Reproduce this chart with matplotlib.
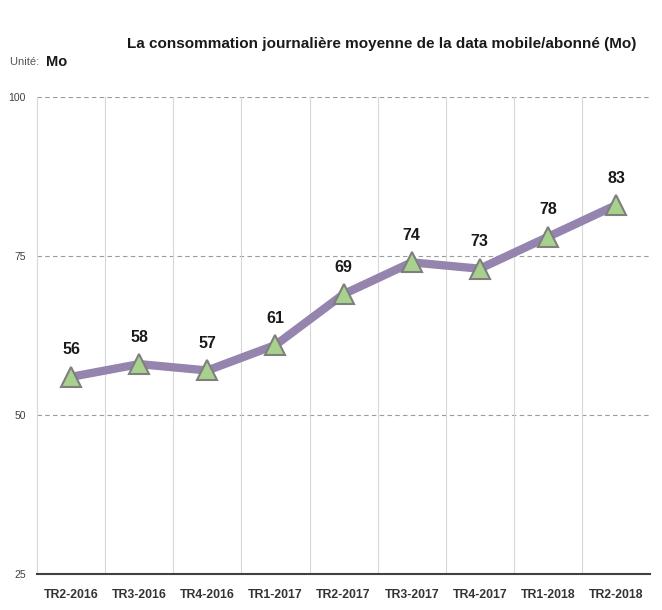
import matplotlib.pyplot as plt
import numpy as np

trimestres = ["TR2-2016", "TR3-2016", "TR4-2016", "TR1-2017", "TR2-2017",
              "TR3-2017", "TR4-2017", "TR1-2018", "TR2-2018"]
conso = [56, 58, 57, 61, 69, 74, 73, 78, 83]
yticks = [25, 50, 75, 100]

plt.rcParams['font.family'] = ['Liberation Sans', 'DejaVu Sans']

fig = plt.figure(figsize=(6.62, 6.10), dpi=100)
ax = fig.add_axes([0.056, 0.059, 0.926, 0.782])

x = np.arange(len(trimestres))
ax.plot(x, conso, color="#9484AE", linewidth=6, solid_capstyle="round", zorder=3)
ax.plot(x, conso, linestyle="none", marker="^", markersize=15,
        markerfacecolor="#A9D18E", markeredgecolor="#7F7F7F", markeredgewidth=1.5, zorder=4)

for xi, v in zip(x, conso):
    ax.annotate(str(v), (xi, v), xytext=(0, 14), textcoords="offset points",
                ha="center", va="bottom", fontsize=11.5, fontweight="bold", color="#1a1a1a")

ax.set_xlim(-0.5, len(trimestres) - 0.5)
ax.set_ylim(25, 100)
ax.set_yticks(yticks)
ax.set_yticklabels([str(t) for t in yticks], fontsize=7.5, color="#404040")
ax.set_xticks(x)
ax.set_xticklabels(trimestres, fontsize=8.8, fontweight="bold", color="#333333")
ax.tick_params(axis="x", length=0, pad=11)
ax.tick_params(axis="y", length=0, pad=8)

for t in yticks[1:]:
    ax.axhline(t, color="#9a9a9a", linestyle=(0, (4, 3)), linewidth=0.8, zorder=1)
for b in np.arange(0.5, len(trimestres) - 0.5, 1):
    ax.axvline(b, color="#d8d8d8", linewidth=0.8, zorder=1)

for s in ["top", "right"]:
    ax.spines[s].set_visible(False)
ax.spines["left"].set_color("#d8d8d8")
ax.spines["bottom"].set_color("#404040")
ax.spines["bottom"].set_linewidth(1.5)

fig.text(0.577, 0.928, "La consommation journalière moyenne de la data mobile/abonné (Mo)",
         ha="center", va="center", fontsize=11, fontweight="bold", color="#1a1a1a")
fig.text(0.015, 0.898, "Unité: ", ha="left", va="center", fontsize=8, color="#555555")
fig.text(0.069, 0.898, "Mo", ha="left", va="center", fontsize=10.5, fontweight="bold", color="#1a1a1a")

fig.savefig("out.png", dpi=100)
